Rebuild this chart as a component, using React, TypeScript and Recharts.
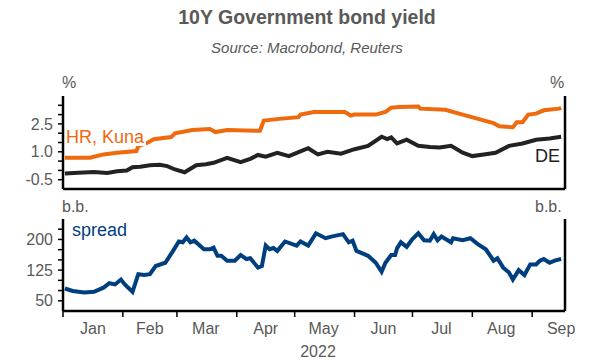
import { LineChart, Line, XAxis, YAxis } from "recharts";

// days counted from 1 Jan 2022
const hrDays = [1, 14, 21, 28, 38, 39, 44, 47, 56, 58, 67, 76, 79, 85, 102, 104, 112, 122, 123, 130, 146, 149, 151, 162, 167, 170, 174, 184, 185, 198, 207, 215, 223, 226, 233, 235, 238, 241, 245, 249, 257, 258];
const hrYield = [0.68, 0.68, 0.86, 0.95, 1.04, 1.3, 1.5, 1.68, 1.79, 1.99, 2.17, 2.23, 2.06, 2.17, 2.13, 2.68, 2.77, 2.86, 3.0, 3.14, 3.14, 2.95, 3.0, 3.0, 3.15, 3.37, 3.41, 3.44, 3.32, 3.26, 3.0, 2.77, 2.54, 2.37, 2.32, 2.59, 2.59, 3.0, 3.05, 3.23, 3.32, 3.37];

const deDays = [1, 8, 16, 23, 28, 33, 36, 40, 45, 50, 54, 58, 63, 69, 74, 78, 85, 92, 97, 101, 105, 111, 117, 122, 127, 132, 137, 144, 151, 158, 165, 168, 170, 173, 178, 184, 190, 195, 201, 207, 212, 218, 224, 231, 238, 245, 252, 258];
const deYield = [-0.17, -0.12, -0.08, -0.14, -0.05, -0.01, 0.17, 0.2, 0.28, 0.3, 0.23, 0.05, -0.1, 0.28, 0.33, 0.41, 0.68, 0.44, 0.62, 0.83, 0.74, 0.95, 0.77, 0.98, 1.19, 0.86, 1.0, 0.9, 1.14, 1.32, 1.81, 1.68, 1.77, 1.45, 1.65, 1.32, 1.26, 1.23, 1.32, 0.95, 0.77, 0.86, 0.95, 1.32, 1.45, 1.65, 1.72, 1.81];

const spreadDays = [1, 5, 11, 16, 21, 24, 27, 30, 32, 36, 39, 42, 45, 48, 53, 57, 60, 62, 64, 66, 68, 73, 76, 78, 80, 82, 85, 89, 92, 95, 97, 101, 103, 105, 107, 109, 111, 115, 121, 123, 127, 131, 136, 139, 145, 148, 150, 152, 158, 162, 165, 167, 170, 172, 173, 175, 178, 181, 184, 187, 190, 192, 194, 196, 201, 202, 207, 211, 215, 219, 223, 225, 228, 231, 233, 236, 239, 242, 245, 247, 249, 252, 255, 258];
const spreadBp = [80, 74, 70, 72, 82, 93, 90, 102, 90, 72, 115, 113, 115, 135, 143, 172, 195, 193, 205, 193, 197, 176, 176, 180, 160, 160, 148, 148, 162, 152, 154, 131, 135, 185, 176, 179, 172, 195, 185, 195, 185, 215, 203, 207, 213, 193, 197, 172, 160, 143, 121, 143, 162, 162, 178, 193, 182, 201, 215, 198, 197, 213, 198, 207, 193, 203, 198, 203, 188, 176, 148, 154, 131, 119, 102, 125, 113, 139, 139, 148, 152, 143, 149, 152];

const monthStarts = [0, 31, 59, 90, 120, 151, 181, 212, 243];
const monthMids = [15.5, 45, 74, 105, 135, 166, 196, 227, 258];
const monthLabels = ["Jan", "Feb", "Mar", "Apr", "May", "Jun", "Jul", "Aug", "Sep"];

const yieldTicks = [-0.5, 0, 0.5, 1, 1.5, 2, 2.5, 3, 3.5];
const yieldLabels = [-0.5, 1, 2.5];
const spreadTicks = [50, 75, 100, 125, 150, 175, 200, 225];
const spreadLabels = [50, 125, 200];

const hrData = hrDays.map((d, i) => ({ day: d, v: hrYield[i] }));
const deData = deDays.map((d, i) => ({ day: d, v: deYield[i] }));
const spreadData = spreadDays.map((d, i) => ({ day: d, v: spreadBp[i] }));

const GREY = "#595959";
const ORANGE = "#EE6A0C";
const NAVY = "#003F7F";
const FONT = "'Liberation Sans', Arial, sans-serif";

const tickStyle = { fill: GREY, fontSize: 16, fontFamily: FONT };
const axisLine = { stroke: "#000", strokeWidth: 2.5 };
const tickLine = { stroke: "#000", strokeWidth: 1.5 };

const MonthTick = (props: any) => {
  const { x, y, payload } = props;
  const i = monthMids.indexOf(payload.value);
  if (i < 0) {
    return <line x1={x} x2={x} y1={y} y2={y + 6} stroke="#000" strokeWidth={1.5} />;
  }
  return (
    <text x={x} y={y + 23} textAnchor="middle" fill={GREY} fontSize={16} fontFamily={FONT}>
      {monthLabels[i]}
    </text>
  );
};

const txt = (s: any) => ({ position: "absolute" as const, fontFamily: FONT, whiteSpace: "nowrap" as const, lineHeight: 1, ...s });

export default function App() {
  const fmtYield = (v: number) => (yieldLabels.includes(v) ? v.toFixed(1) : "");
  const fmtSpread = (v: number) => (spreadLabels.includes(v) ? String(v) : "");

  return (
    <div style={{ position: "absolute", left: 0, top: 0, width: 614, height: 362, background: "#fff", overflow: "hidden" }}>
      <div style={{ position: "absolute", left: 0, top: 0 }}>
        <LineChart width={614} height={192} margin={{ top: 96, right: 2, bottom: 2, left: 8 }}>
          <XAxis type="number" dataKey="day" domain={[0, 260]} allowDataOverflow height={1} tick={false} tickLine={false} axisLine={axisLine} />
          <YAxis yAxisId="l" domain={[-1, 4]} ticks={yieldTicks} tickFormatter={fmtYield} width={55} tick={tickStyle} axisLine={axisLine} tickLine={tickLine} tickSize={5} tickMargin={5} interval={0} />
          <YAxis yAxisId="r" orientation="right" domain={[-1, 4]} ticks={yieldTicks} tickFormatter={fmtYield} width={47} tick={tickStyle} axisLine={axisLine} tickLine={tickLine} tickSize={5} tickMargin={5} interval={0} />
          <Line yAxisId="l" data={hrData} dataKey="v" type="linear" stroke={ORANGE} strokeWidth={4} dot={false} isAnimationActive={false} />
          <Line yAxisId="l" data={deData} dataKey="v" type="linear" stroke="#222" strokeWidth={4} dot={false} isAnimationActive={false} />
        </LineChart>
      </div>
      <div style={{ position: "absolute", left: 0, top: 195 }}>
        <LineChart width={614} height={167} margin={{ top: 24, right: 2, bottom: 0, left: 8 }}>
          <XAxis type="number" dataKey="day" domain={[0, 260]} allowDataOverflow height={51} ticks={[...monthStarts, ...monthMids]} interval={0} tick={<MonthTick />} tickLine={false} tickSize={0} tickMargin={0} axisLine={axisLine} />
          <YAxis yAxisId="l" domain={[25, 250]} ticks={spreadTicks} tickFormatter={fmtSpread} width={55} tick={tickStyle} axisLine={axisLine} tickLine={tickLine} tickSize={5} tickMargin={5} interval={0} />
          <YAxis yAxisId="r" orientation="right" domain={[25, 250]} ticks={spreadTicks} tickFormatter={fmtSpread} width={47} tick={tickStyle} axisLine={axisLine} tickLine={tickLine} tickSize={5} tickMargin={5} interval={0} />
          <Line yAxisId="l" data={spreadData} dataKey="v" type="linear" stroke={NAVY} strokeWidth={4} dot={false} isAnimationActive={false} />
        </LineChart>
      </div>

      <div style={txt({ left: 0, width: 614, top: 8, textAlign: "center", fontSize: 19.5, fontWeight: "bold", color: GREY })}>10Y Government bond yield</div>
      <div style={txt({ left: 0, width: 614, top: 40, textAlign: "center", fontSize: 15, fontStyle: "italic", color: GREY })}>Source: Macrobond, Reuters</div>
      <div style={txt({ left: 62, top: 75, fontSize: 16, color: GREY })}>%</div>
      <div style={txt({ left: 550, top: 75, fontSize: 16, color: GREY })}>%</div>
      <div style={txt({ left: 62, top: 199, fontSize: 16, color: GREY })}>b.b.</div>
      <div style={txt({ left: 535, top: 199, fontSize: 16, color: GREY })}>b.b.</div>
      <div style={txt({ left: 66, top: 128, fontSize: 18, color: ORANGE, background: "#fff", paddingRight: 2 })}>HR, Kuna</div>
      <div style={txt({ left: 535, top: 147, fontSize: 18, color: "#222" })}>DE</div>
      <div style={txt({ left: 72, top: 221, fontSize: 18, color: NAVY })}>spread</div>
      <div style={txt({ left: 293, width: 50, top: 344, textAlign: "center", fontSize: 16, color: GREY })}>2022</div>
    </div>
  );
}
